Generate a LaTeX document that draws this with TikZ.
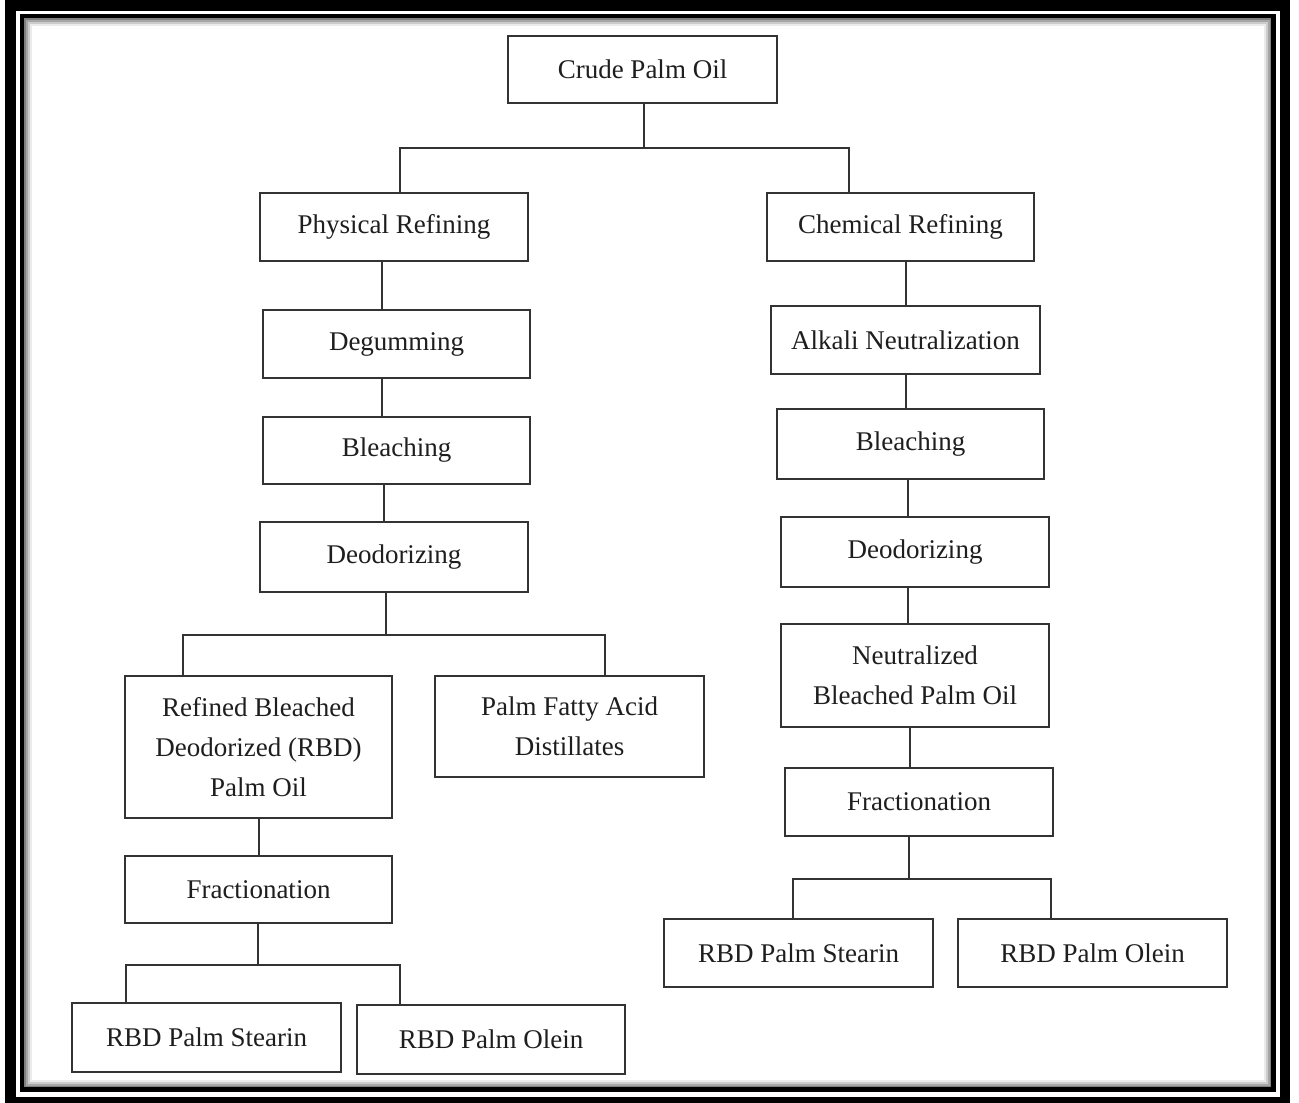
\documentclass[tikz,border=0pt]{standalone}
\usepackage{fontspec}
\setmainfont{Liberation Serif}
\usepackage{xcolor}
\usetikzlibrary{calc}
\definecolor{linegray}{HTML}{333333}
\definecolor{textgray}{HTML}{1E1E1E}
\newcommand{\boxfont}{\fontsize{27}{40}\selectfont}

\begin{document}
\begin{tikzpicture}[x=1pt, y=-1pt,
  box/.style={draw=linegray, line width=1.8pt, minimum width=268pt,
    minimum height=68pt, inner sep=0pt, align=center, font=\boxfont,
    text=textgray},
  link/.style={draw=linegray, line width=2pt}]
\useasboundingbox (0,0) rectangle (1299,1103);
\fill (5,0) rectangle (1290,1103);
\fill[white] (16,11) rectangle (1280,1097);
\foreach \d/\s in {3/50,5/35,7/20,9/8}
  \draw[black!\s, line width=2pt] ({22+\d},{16+\d}) rectangle ({1273.5-\d},{1089.5-\d});
\draw[line width=4.5pt] (22,16) rectangle (1273.5,1089.5);

\node[box, minimum width=269pt, minimum height=67pt] (cpo) at (642.5,69.5) {Crude Palm Oil};
\node[box] (phys) at (394,227) {Physical Refining};
\node[box, minimum width=267pt] (chem) at (900.5,227) {Chemical Refining};

\node[box, minimum width=267pt] (degum) at (396.5,344) {Degumming};
\node[box, minimum width=267pt, minimum height=67pt] (bleachL) at (396.5,450.5) {Bleaching};
\node[box, minimum height=70pt] (deodL) at (394,557) {Deodorizing};
\node[box, minimum width=267pt, minimum height=142pt] (rbd) at (258.5,747)
  {Refined Bleached\\Deodorized (RBD)\\Palm Oil};
\node[box, minimum width=269pt, minimum height=101pt] (pfad) at (569.5,726.5)
  {Palm Fatty Acid\\Distillates};
\node[box, minimum width=267pt, minimum height=67pt] (fracL) at (258.5,889.5) {Fractionation};
\node[box, minimum width=269pt, minimum height=69pt] (stearL) at (206.5,1037.5) {RBD Palm Stearin};
\node[box, minimum height=69pt] (oleinL) at (491,1039.5) {RBD Palm Olein};

\node[box, minimum width=269pt] (alkali) at (905.5,340) {Alkali Neutralization};
\node[box, minimum width=267pt, minimum height=70pt] (bleachR) at (910.5,444) {Bleaching};
\node[box, minimum height=70pt] (deodR) at (915,552) {Deodorizing};
\node[box, minimum height=103pt] (nbpo) at (915,675.5) {Neutralized\\Bleached Palm Oil};
\node[box] (fracR) at (919,802) {Fractionation};
\node[box, minimum width=269pt] (stearR) at (798.5,953) {RBD Palm Stearin};
\node[box, minimum width=269pt] (oleinR) at (1092.5,953) {RBD Palm Olein};

\coordinate (j1) at (644,148);
\coordinate (j2) at (386,635);
\coordinate (j3) at (258,965);
\coordinate (j4) at (909,879);

\draw[link] (cpo.south -| j1) -- (j1);
\draw[link] ([xshift=6pt]phys.north) |- (j1) -| ([xshift=-51.5pt]chem.north);

\draw[link] ([xshift=-12pt]phys.south) -- ([xshift=-12pt]phys.south |- degum.north);
\draw[link] ([xshift=-14.5pt]degum.south) -- ([xshift=-14.5pt]bleachL.north);
\draw[link] ([xshift=-12.5pt]bleachL.south) -- ([xshift=-10pt]deodL.north);
\draw[link] ([xshift=-8pt]deodL.south) -- (j2);
\draw[link] ([xshift=-75.5pt]rbd.north) |- (j2) -| ([xshift=35.5pt]pfad.north);
\draw[link] (rbd.south) -- (fracL.north);
\draw[link] (fracL.south -| j3) -- (j3);
\draw[link] ([xshift=-80.5pt]stearL.north) |- (j3) -| ([xshift=-91pt]oleinL.north);

\draw[link] (chem.south -| alkali.north) -- (alkali.north);
\draw[link] (alkali.south) -- (alkali.south |- bleachR.north);
\draw[link] ([xshift=-2.5pt]bleachR.south) -- ([xshift=-7pt]deodR.north);
\draw[link] ([xshift=-7pt]deodR.south) -- ([xshift=-7pt]nbpo.north);
\draw[link] ([xshift=-5pt]nbpo.south) -- ([xshift=-9pt]fracR.north);
\draw[link] (fracR.south -| j4) -- (j4);
\draw[link] ([xshift=-5.5pt]stearR.north) |- (j4) -| ([xshift=-41.5pt]oleinR.north);
\end{tikzpicture}
\end{document}
